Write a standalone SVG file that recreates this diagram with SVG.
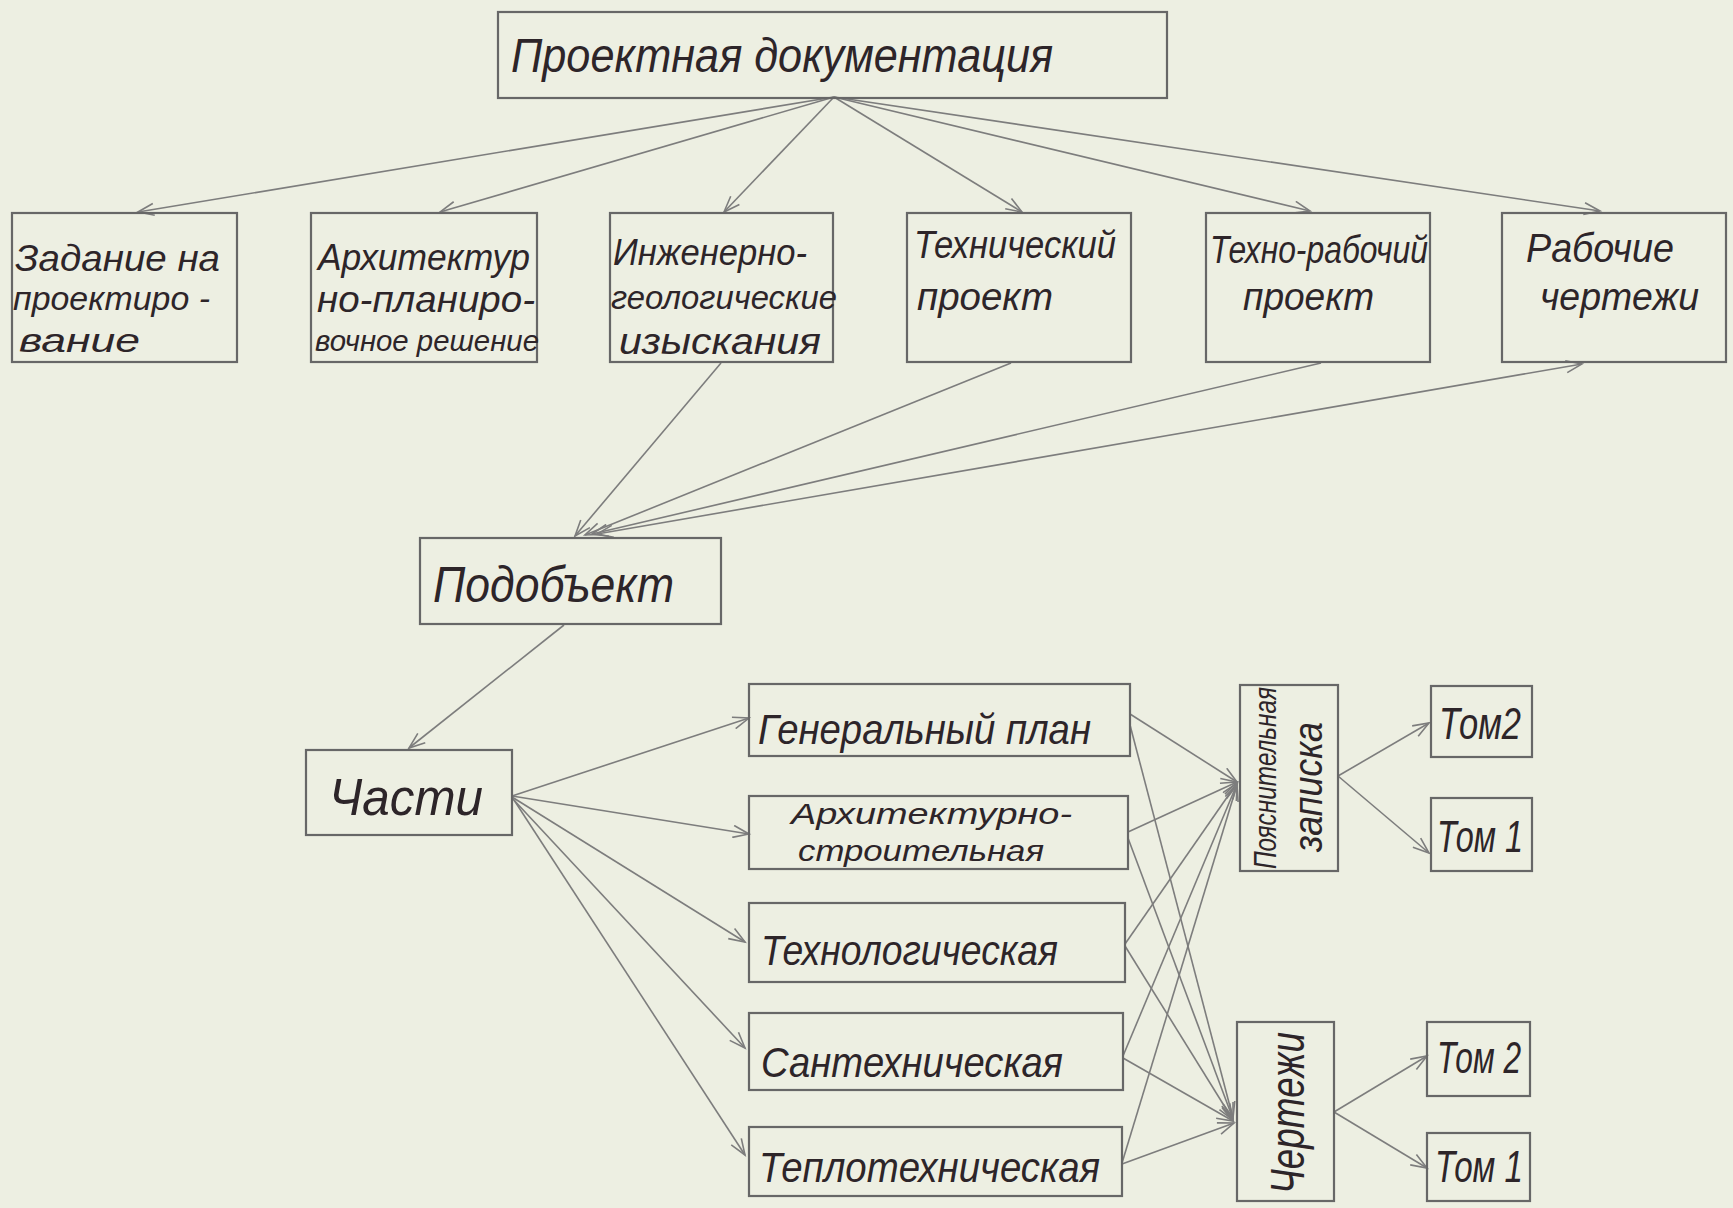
<svg xmlns="http://www.w3.org/2000/svg" width="1733" height="1208" viewBox="0 0 1733 1208">
<style>
.box{fill:none;stroke:#676767;stroke-width:2.2}
.ln{stroke:#7d7d7d;stroke-width:1.6;fill:none}
.a{marker-end:url(#ah)}
.b{marker-start:url(#ah);marker-end:url(#ah)}
.t{font-family:"Liberation Sans","DejaVu Sans",sans-serif;font-style:italic;fill:#2d2529}
</style>
<defs>
<marker id="ah" markerWidth="20" markerHeight="14" refX="17" refY="7" orient="auto-start-reverse" markerUnits="userSpaceOnUse">
<path d="M1,1 L17,7 L1,13" fill="none" stroke="#7d7d7d" stroke-width="1.6"/>
</marker>
</defs>
<rect width="1733" height="1208" fill="#edefe2"/>

<g id="connectors">
<line class="ln a" x1="834" y1="97" x2="138" y2="212"/>
<line class="ln a" x1="834" y1="97" x2="440" y2="212"/>
<line class="ln a" x1="834" y1="97" x2="724" y2="212"/>
<line class="ln a" x1="834" y1="97" x2="1022" y2="212"/>
<line class="ln a" x1="834" y1="97" x2="1310" y2="211"/>
<line class="ln a" x1="834" y1="97" x2="1600" y2="211"/>

<line class="ln a" x1="721" y1="363" x2="575" y2="536"/>
<line class="ln a" x1="1011" y1="363" x2="585" y2="535"/>
<line class="ln a" x1="1321" y1="363" x2="592" y2="534"/>
<line class="ln b" x1="597" y1="534" x2="1582" y2="364"/>

<line class="ln a" x1="564" y1="625" x2="409" y2="748"/>

<line class="ln a" x1="512" y1="796" x2="749" y2="718"/>
<line class="ln a" x1="512" y1="796" x2="749" y2="834"/>
<line class="ln a" x1="512" y1="797" x2="745" y2="942"/>
<line class="ln a" x1="512" y1="798" x2="745" y2="1048"/>
<line class="ln a" x1="514" y1="800" x2="745" y2="1155"/>

<line class="ln a" x1="1130" y1="714" x2="1237" y2="782"/>
<line class="ln a" x1="1130" y1="725" x2="1233" y2="1118"/>
<line class="ln a" x1="1128" y1="832" x2="1237" y2="782"/>
<line class="ln a" x1="1128" y1="838" x2="1233" y2="1119"/>
<line class="ln a" x1="1125" y1="944" x2="1237" y2="783"/>
<line class="ln a" x1="1125" y1="946" x2="1233" y2="1120"/>
<line class="ln a" x1="1123" y1="1056" x2="1237" y2="784"/>
<line class="ln a" x1="1123" y1="1058" x2="1233" y2="1121"/>
<line class="ln a" x1="1122" y1="1163" x2="1237" y2="785"/>
<line class="ln a" x1="1122" y1="1164" x2="1234" y2="1123"/>

<line class="ln a" x1="1338" y1="776" x2="1429" y2="723"/>
<line class="ln a" x1="1338" y1="776" x2="1429" y2="853"/>
<line class="ln a" x1="1334" y1="1112" x2="1427" y2="1056"/>
<line class="ln a" x1="1334" y1="1112" x2="1427" y2="1168"/>
</g>

<g id="n-doc"><rect class="box" x="498" y="12" width="669" height="86"/>
<text class="t" x="511" y="72" font-size="48" textLength="542" lengthAdjust="spacingAndGlyphs">Проектная документация</text></g>

<g id="n-zadanie"><rect class="box" x="12" y="213" width="225" height="149"/>
<text class="t" x="15" y="271" font-size="36" textLength="205" lengthAdjust="spacingAndGlyphs">Задание на</text>
<text class="t" x="13" y="310" font-size="34" textLength="197" lengthAdjust="spacingAndGlyphs">проектиро -</text>
<text class="t" x="19" y="352" font-size="34" textLength="121" lengthAdjust="spacingAndGlyphs">вание</text></g>

<g id="n-arch"><rect class="box" x="311" y="213" width="226" height="149"/>
<text class="t" x="318" y="270" font-size="36" textLength="212" lengthAdjust="spacingAndGlyphs">Архитектур</text>
<text class="t" x="317" y="312" font-size="36" textLength="218" lengthAdjust="spacingAndGlyphs">но-планиро-</text>
<text class="t" x="315" y="351" font-size="30" textLength="224" lengthAdjust="spacingAndGlyphs">вочное решение</text></g>

<g id="n-ingeo"><rect class="box" x="610" y="213" width="223" height="149"/>
<text class="t" x="613" y="265" font-size="36" textLength="194" lengthAdjust="spacingAndGlyphs">Инженерно-</text>
<text class="t" x="611" y="309" font-size="34" textLength="226" lengthAdjust="spacingAndGlyphs">геологические</text>
<text class="t" x="619" y="354" font-size="36" textLength="202" lengthAdjust="spacingAndGlyphs">изыскания</text></g>

<g id="n-tech"><rect class="box" x="907" y="213" width="224" height="149"/>
<text class="t" x="914" y="258" font-size="38" textLength="202" lengthAdjust="spacingAndGlyphs">Технический</text>
<text class="t" x="917" y="310" font-size="38" textLength="136" lengthAdjust="spacingAndGlyphs">проект</text></g>

<g id="n-techrab"><rect class="box" x="1206" y="213" width="224" height="149"/>
<text class="t" x="1210" y="263" font-size="38" textLength="218" lengthAdjust="spacingAndGlyphs">Техно-рабочий</text>
<text class="t" x="1243" y="310" font-size="38" textLength="131" lengthAdjust="spacingAndGlyphs">проект</text></g>

<g id="n-rab"><rect class="box" x="1502" y="213" width="224" height="149"/>
<text class="t" x="1526" y="262" font-size="40" textLength="148" lengthAdjust="spacingAndGlyphs">Рабочие</text>
<text class="t" x="1540" y="310" font-size="38" textLength="159" lengthAdjust="spacingAndGlyphs">чертежи</text></g>

<g id="n-podobj"><rect class="box" x="420" y="538" width="301" height="86"/>
<text class="t" x="433" y="602" font-size="50" textLength="241" lengthAdjust="spacingAndGlyphs">Подобъект</text></g>

<g id="n-chasti"><rect class="box" x="306" y="750" width="206" height="85"/>
<text class="t" x="329" y="815" font-size="52" textLength="154" lengthAdjust="spacingAndGlyphs">Части</text></g>

<g id="n-genplan"><rect class="box" x="749" y="684" width="381" height="72"/>
<text class="t" x="758" y="744" font-size="42" textLength="333" lengthAdjust="spacingAndGlyphs">Генеральный план</text></g>

<g id="n-archstr"><rect class="box" x="749" y="796" width="379" height="73"/>
<text class="t" x="791" y="824" font-size="30" textLength="281" lengthAdjust="spacingAndGlyphs">Архитектурно-</text>
<text class="t" x="798" y="861" font-size="30" textLength="246" lengthAdjust="spacingAndGlyphs">строительная</text></g>

<g id="n-technol"><rect class="box" x="749" y="903" width="376" height="79"/>
<text class="t" x="761" y="965" font-size="42" textLength="297" lengthAdjust="spacingAndGlyphs">Технологическая</text></g>

<g id="n-santech"><rect class="box" x="749" y="1013" width="374" height="77"/>
<text class="t" x="761" y="1077" font-size="42" textLength="302" lengthAdjust="spacingAndGlyphs">Сантехническая</text></g>

<g id="n-teplo"><rect class="box" x="749" y="1127" width="373" height="69"/>
<text class="t" x="759" y="1182" font-size="42" textLength="341" lengthAdjust="spacingAndGlyphs">Теплотехническая</text></g>

<g id="n-pz"><rect class="box" x="1240" y="685" width="98" height="186"/>
<text class="t" transform="translate(1276,869) rotate(-90)" x="0" y="0" font-size="32" textLength="182" lengthAdjust="spacingAndGlyphs">Пояснительная</text>
<text class="t" transform="translate(1322,852) rotate(-90)" x="0" y="0" font-size="40" textLength="130" lengthAdjust="spacingAndGlyphs">записка</text></g>

<g id="n-cherteji"><rect class="box" x="1237" y="1022" width="97" height="179"/>
<text class="t" transform="translate(1304,1194) rotate(-90)" x="0" y="0" font-size="48" textLength="162" lengthAdjust="spacingAndGlyphs">Чертежи</text></g>

<g id="n-pz-tom2"><rect class="box" x="1431" y="686" width="101" height="71"/>
<text class="t" x="1439" y="739" font-size="44" textLength="82" lengthAdjust="spacingAndGlyphs">Том2</text></g>
<g id="n-pz-tom1"><rect class="box" x="1431" y="798" width="101" height="73"/>
<text class="t" x="1437" y="852" font-size="44" textLength="86" lengthAdjust="spacingAndGlyphs">Том 1</text></g>
<g id="n-ch-tom2"><rect class="box" x="1427" y="1022" width="103" height="74"/>
<text class="t" x="1437" y="1073" font-size="44" textLength="84" lengthAdjust="spacingAndGlyphs">Том 2</text></g>
<g id="n-ch-tom1"><rect class="box" x="1427" y="1133" width="103" height="68"/>
<text class="t" x="1435" y="1182" font-size="44" textLength="88" lengthAdjust="spacingAndGlyphs">Том 1</text></g>
</svg>
